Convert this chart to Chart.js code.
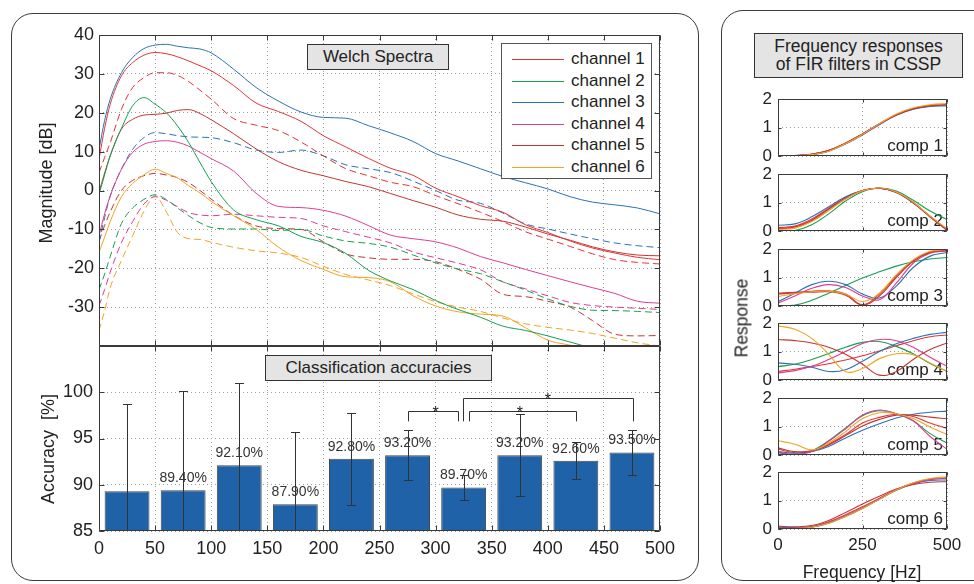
<!DOCTYPE html>
<html>
<head>
<meta charset="utf-8">
<title>Welch spectra, accuracies and FIR responses</title>
<script src="https://cdn.jsdelivr.net/npm/chart.js@4.4.1/dist/chart.umd.min.js"></script>
<style>
  html, body { margin: 0; padding: 0; background: #fff; }
  #fig { position: relative; width: 974px; height: 584px; overflow: hidden;
         font-family: "Liberation Sans", Arial, sans-serif; color: #222; }
  .panel { position: absolute; border: 1.5px solid #3c3c3c; border-radius: 22px; box-sizing: border-box; }
  canvas { position: absolute; }
  .tbox { position: absolute; box-sizing: border-box; background: #e4e4e4; border: 1.5px solid #333;
          text-align: center; font-size: 17px; z-index: 2; }
  .rot { position: absolute; white-space: pre; transform: translate(-50%, -50%) rotate(-90deg); }
  #legend { position: absolute; left: 501px; top: 43px; width: 151px; height: 136px; box-sizing: border-box;
            background: #fff; border: 1px solid #555; padding-top: 4px; font-size: 17px; z-index: 2; }
  #legend .row { height: 21.6px; line-height: 21.6px; white-space: nowrap; }
  #legend .sw { display: inline-block; width: 52px; margin: 0 7px 0 10px; vertical-align: middle; border-top: 1.5px solid; }
</style>
</head>
<body>
<div id="fig">
  <div class="panel" style="left:11px; top:13px; width:688px; height:568px;"></div>
  <div class="panel" style="left:721px; top:10px; width:300px; height:571px;"></div>

  <canvas id="welch" width="660" height="330" style="left:20px; top:20px;"></canvas>
  <canvas id="acc" width="660" height="240" style="left:20px; top:336px;"></canvas>

  <div class="tbox" style="left:307px; top:44px; width:142px; height:26px; line-height:23px;">Welch Spectra</div>
  <div class="tbox" style="left:265px; top:355px; width:227px; height:26px; line-height:23px;">Classification accuracies</div>
  <div class="tbox" style="left:754px; top:33px; width:209px; height:45px; line-height:18.3px; padding-top:3px; font-size:17.5px;">Frequency responses<br>of FIR filters in CSSP</div>
  <div id="legend"></div>

  <div class="rot" style="left:46px; top:183px; font-size:18px;">Magnitude [dB]</div>
  <div class="rot" style="left:48px; top:449px; font-size:18px;">Accuracy  [%]</div>
  <div class="rot" style="left:742px; top:318px; font-size:17.5px;">Response</div>
  <div style="position:absolute; left:862px; top:572px; transform:translate(-50%,-50%); font-size:17.5px; white-space:nowrap;">Frequency [Hz]</div>
</div>

<script>
// canales
const channelNames = ['channel 1', 'channel 2', 'channel 3', 'channel 4', 'channel 5', 'channel 6'];
const channelColors = ['#e03535', '#15a050', '#2b72b5', '#dc3d94', '#c23630', '#f2a324'];

// espectros de Welch (dB)
const freqs = [0, 5, 10, 20, 30, 40, 50, 60, 70, 80, 90, 100, 120, 140, 160, 180, 200, 220, 240, 260, 280, 300, 320, 340, 360, 380, 400, 420, 440, 460, 480, 500];
const ch1Solid  = [8, 16, 22.2, 29.5, 32.9, 34.8, 35.5, 35.2, 34.4, 33.3, 32.1, 30.8, 27, 22.5, 20.3, 17.8, 14.1, 11.2, 8.3, 5.7, 3.9, 0.6, -1.6, -3.9, -5.6, -8.8, -10.8, -13, -14.8, -16.1, -17.2, -17.8];
const ch1Dashed = [4.6, 8.5, 12.3, 20.9, 26.5, 29, 30.3, 30.3, 29.6, 28, 25.8, 23.5, 18.5, 16.8, 15.4, 12.5, 8.9, 5.6, 3.8, 2.1, 1, -1.3, -3.4, -5.6, -8, -10.6, -12.5, -14.4, -16.3, -17.8, -18.5, -18.9];
const ch2Solid  = [-1, 4, 9, 16, 21.8, 23.9, 22.2, 20, 16.6, 12.3, 7.2, 2.3, -5, -7.5, -9.1, -11.8, -13.4, -16.2, -20.5, -23.3, -25.5, -28.3, -30.6, -32.6, -34.9, -36, -37.4, -39, -40.5, -41.5, -42.5, -43];
const ch2Dashed = [-25.5, -21.5, -17, -8.5, -4.5, -2.3, -1.1, -2.3, -4.5, -6.5, -8.3, -9.5, -9.9, -9.9, -10.3, -10, -11.7, -13, -13.6, -14.6, -16.6, -18.6, -20.2, -21.4, -23.5, -25.6, -27.9, -29.8, -30.8, -30.9, -31.1, -31.4];
const ch3Solid  = [10.5, 18, 23.5, 30.3, 34.2, 36.5, 37.4, 37.6, 37.1, 36.7, 36.4, 35.4, 31.2, 26.5, 23, 20.2, 18.8, 18.6, 16.7, 14.8, 12.6, 9.5, 7.6, 5.6, 3.6, 2, 0.4, -1.6, -3, -3.7, -4.5, -6];
const ch3Dashed = [-13.4, -7, -1.4, 5.5, 10.6, 13.6, 14.9, 14.6, 14.1, 13.8, 13.7, 13.6, 12.3, 10.4, 9.8, 10.4, 8.9, 6.6, 5.6, 4.6, 2.4, 0, -2.5, -3.3, -5.8, -8.6, -9.9, -11.2, -12.4, -13.5, -14.2, -14.7];
const ch4Solid  = [-11.7, -6, -1.4, 5.5, 9.8, 11.9, 12.6, 12.8, 12.4, 11.4, 9.8, 8.2, 5, -0.7, -4.1, -4.4, -5.1, -6.6, -9, -11.5, -12.4, -13.2, -14.8, -17, -18.6, -20.3, -21.9, -23.5, -25, -26.5, -28.5, -29];
const ch4Dashed = [-29.6, -25.5, -21, -13.4, -8, -3.5, -1.6, -2.5, -4.2, -5.7, -6.3, -6.5, -6.1, -6.5, -6.9, -7.2, -9.1, -10.6, -12, -13.5, -15.8, -17.3, -18.7, -20.4, -23.5, -25.3, -27.1, -28.8, -29.6, -30, -30.3, -30.6];
const ch5Solid  = [-0.5, 4.5, 8.9, 15.8, 18.3, 19.4, 19.6, 19.9, 20.6, 20.8, 19.8, 18.2, 14.6, 10.7, 7.4, 5.2, 3.8, 2.3, 1, -0.8, -2.6, -4.3, -6.3, -7.4, -7.9, -9.4, -11.2, -12.8, -14.5, -15.8, -16.6, -16.8];
const ch5Dashed = [-13, -9, -5.5, 0, 2.6, 3.8, 4.4, 4, 3.3, 2, 0, -2.2, -6.4, -9.1, -9.8, -10, -13.2, -16.3, -17.3, -17.7, -17.7, -18.3, -20.3, -22.8, -26.7, -27.3, -28.5, -30, -33.5, -37, -37.4, -37.3];
const ch6Solid  = [-15.9, -12, -8, -1.6, 1.8, 4, 5.5, 4.4, 3.2, 1.2, -0.6, -2.8, -6.5, -10, -14.6, -18, -20.3, -22.2, -22.4, -23.5, -27.1, -29.7, -31.2, -31.8, -32.3, -35.3, -38.5, -39.8, -41, -42, -43, -44];
const ch6Dashed = [-36, -31, -25, -18, -11.6, -5.4, -1.4, -5.5, -10.8, -12.4, -12.6, -13.3, -14.6, -15.5, -16.1, -17.2, -19.5, -21.6, -23, -24.5, -26.6, -28.6, -30, -31.1, -32.8, -34.3, -35.2, -35.9, -36.8, -38, -39.2, -40];
const solidSeries = [ch1Solid, ch2Solid, ch3Solid, ch4Solid, ch5Solid, ch6Solid];
const dashedSeries = [ch1Dashed, ch2Dashed, ch3Dashed, ch4Dashed, ch5Dashed, ch6Dashed];

// precisión por banda
const bandCenters = [25, 75, 125, 175, 225, 275, 325, 375, 425, 475];
const accuracy = [89.3, 89.4, 92.1, 87.9, 92.8, 93.2, 89.7, 93.2, 92.6, 93.5];
const accStd = [9.4, 10.7, 8.9, 7.8, 5.0, 2.7, 1.4, 4.4, 2.0, 2.4];
const accLabelFrom = 1;              // la primera barra no lleva etiqueta
const sigPairs = [[5, 6], [6, 8], [6, 9]];
const sigLevels = [0, 0, 1];

// respuestas de los filtros FIR (una fila por canal)
const firFreqs = [0, 50, 100, 150, 200, 250, 300, 350, 400, 450, 500];
const comp1 = [
  [0, 0.02, 0.07, 0.2, 0.46, 0.78, 1.13, 1.45, 1.66, 1.77, 1.8],
  [0, 0.01, 0.05, 0.18, 0.44, 0.77, 1.12, 1.45, 1.67, 1.78, 1.82],
  [0, 0.01, 0.05, 0.17, 0.42, 0.74, 1.1, 1.43, 1.64, 1.74, 1.76],
  [0, 0.02, 0.06, 0.19, 0.44, 0.76, 1.12, 1.45, 1.66, 1.77, 1.81],
  [0, 0.02, 0.06, 0.19, 0.45, 0.77, 1.12, 1.44, 1.65, 1.76, 1.79],
  [0, 0.01, 0.05, 0.17, 0.43, 0.76, 1.13, 1.47, 1.69, 1.8, 1.84]
];
const comp2 = [
  [0.12, 0.17, 0.42, 0.8, 1.17, 1.42, 1.5, 1.35, 1.0, 0.52, 0.05],
  [0.0, 0.02, 0.22, 0.6, 1.05, 1.38, 1.51, 1.4, 1.08, 0.7, 0.4],
  [0.2, 0.25, 0.5, 0.85, 1.2, 1.42, 1.5, 1.35, 0.98, 0.5, 0.05],
  [0.08, 0.12, 0.35, 0.73, 1.13, 1.41, 1.5, 1.36, 1.0, 0.5, 0.02],
  [0.1, 0.14, 0.38, 0.77, 1.15, 1.42, 1.5, 1.36, 1.0, 0.5, 0.03],
  [0.05, 0.1, 0.33, 0.72, 1.12, 1.41, 1.51, 1.37, 1.02, 0.52, 0.08]
];
const comp3 = [
  [0.45, 0.48, 0.52, 0.53, 0.42, 0.05, 0.42, 1.05, 1.6, 1.9, 1.96],
  [0, 0.03, 0.2, 0.45, 0.72, 0.98, 1.2, 1.4, 1.55, 1.65, 1.7],
  [0.15, 0.45, 0.75, 0.87, 0.75, 0.42, 0.28, 0.7, 1.35, 1.75, 1.88],
  [0.1, 0.35, 0.62, 0.75, 0.65, 0.35, 0.22, 0.8, 1.5, 1.85, 1.93],
  [0.42, 0.46, 0.48, 0.5, 0.38, 0.03, 0.35, 1.0, 1.57, 1.88, 1.94],
  [0.33, 0.43, 0.5, 0.52, 0.42, 0.16, 0.45, 1.1, 1.62, 1.92, 1.98]
];
const comp4 = [
  [0.3, 0.38, 0.47, 0.57, 0.7, 0.85, 1.02, 1.2, 1.38, 1.52, 1.58],
  [0.47, 0.55, 0.72, 0.93, 1.15, 1.32, 1.35, 1.18, 0.92, 0.58, 0.3],
  [0.6, 0.55, 0.45, 0.3, 0.36, 0.66, 1.0, 1.27, 1.46, 1.6, 1.67],
  [0.25, 0.33, 0.48, 0.72, 1.0, 1.28, 1.42, 1.38, 1.15, 0.8, 0.48],
  [1.42, 1.38, 1.3, 1.15, 0.9, 0.55, 0.17, 0.3, 0.72, 1.07, 1.3],
  [1.9, 1.78, 1.46, 0.9, 0.3, 0.4, 0.75, 0.92, 0.89, 0.6, 0.3]
];
const comp5 = [
  [0.2, 0.08, 0.12, 0.38, 0.72, 1.12, 1.32, 1.43, 1.35, 1.12, 0.93],
  [0.08, 0.0, 0.15, 0.5, 0.95, 1.38, 1.55, 1.45, 1.2, 0.75, 0.42],
  [0.12, 0.06, 0.12, 0.3, 0.6, 0.87, 1.1, 1.3, 1.43, 1.5, 1.54],
  [0.1, 0.02, 0.12, 0.48, 0.92, 1.4, 1.58, 1.45, 1.2, 0.65, 0.2],
  [0.25, 0.12, 0.15, 0.35, 0.68, 1.02, 1.25, 1.4, 1.4, 1.33, 1.27],
  [0.5, 0.38, 0.18, 0.42, 0.82, 1.28, 1.48, 1.45, 1.28, 0.98, 0.72]
];
const comp6 = [
  [0.05, 0.04, 0.08, 0.25, 0.5, 0.78, 1.08, 1.38, 1.6, 1.74, 1.78],
  [0.02, 0.02, 0.06, 0.2, 0.44, 0.72, 1.05, 1.37, 1.61, 1.75, 1.8],
  [0.05, 0.05, 0.08, 0.22, 0.46, 0.74, 1.05, 1.36, 1.58, 1.7, 1.72],
  [0.03, 0.03, 0.07, 0.22, 0.46, 0.74, 1.06, 1.38, 1.6, 1.74, 1.79],
  [0.1, 0.08, 0.12, 0.3, 0.58, 0.88, 1.15, 1.4, 1.56, 1.64, 1.66],
  [0.02, 0.02, 0.06, 0.2, 0.44, 0.72, 1.04, 1.37, 1.62, 1.77, 1.83]
];
const firComps = [comp1, comp2, comp3, comp4, comp5, comp6];
const compNames = ['comp 1', 'comp 2', 'comp 3', 'comp 4', 'comp 5', 'comp 6'];

Chart.defaults.font.family = '"Liberation Sans", Arial, sans-serif';
Chart.defaults.color = '#222';

const FONT = '"Liberation Sans", Arial, sans-serif';
const GRID = '#9c9c9c';

// Caja estilo MATLAB con marcas hacia dentro
const matlabBox = {
  id: 'matlabBox',
  afterDraw(chart, args, opts) {
    const { ctx, chartArea: a, scales } = chart;
    const len = opts.tick || 5;
    const L = Math.round(a.left) + 0.5, R = Math.round(a.right) - 0.5;
    const T = Math.round(a.top) + 0.5, B = Math.round(a.bottom) - 0.5;
    ctx.save();
    ctx.strokeStyle = '#3a3a3a';
    ctx.lineWidth = 1;
    ctx.beginPath();
    scales.x.ticks.forEach(t => {
      const px = Math.round(scales.x.getPixelForValue(t.value)) + 0.5;
      ctx.moveTo(px, T); ctx.lineTo(px, T + len);
      ctx.moveTo(px, B); ctx.lineTo(px, B - len);
    });
    scales.y.ticks.forEach(t => {
      const py = Math.round(scales.y.getPixelForValue(t.value)) + 0.5;
      ctx.moveTo(L, py); ctx.lineTo(L + len, py);
      ctx.moveTo(R, py); ctx.lineTo(R - len, py);
    });
    ctx.rect(L, T, R - L, B - T);
    ctx.stroke();
    ctx.restore();
  }
};

// Barras de error, etiquetas y corchetes de significancia
const accExtras = {
  id: 'accExtras',
  afterDatasetsDraw(chart) {
    const { ctx, chartArea: a, scales: { x, y } } = chart;
    ctx.save();
    ctx.beginPath();
    ctx.rect(a.left, a.top, a.right - a.left, a.bottom - a.top);
    ctx.clip();
    ctx.strokeStyle = '#333';
    ctx.lineWidth = 1;
    ctx.beginPath();
    bandCenters.forEach((c, i) => {
      const px = Math.round(x.getPixelForValue(c)) + 0.5;
      const hi = Math.round(y.getPixelForValue(accuracy[i] + accStd[i])) + 0.5;
      const lo = Math.round(y.getPixelForValue(accuracy[i] - accStd[i])) + 0.5;
      ctx.moveTo(px, hi); ctx.lineTo(px, lo);
      ctx.moveTo(px - 4.5, hi); ctx.lineTo(px + 4.5, hi);
      ctx.moveTo(px - 4.5, lo); ctx.lineTo(px + 4.5, lo);
    });
    ctx.stroke();
    ctx.restore();

    ctx.save();
    ctx.font = '14px ' + FONT;
    ctx.fillStyle = '#333';
    ctx.textAlign = 'center';
    ctx.textBaseline = 'bottom';
    bandCenters.forEach((c, i) => {
      if (i < accLabelFrom) return;
      ctx.fillText(accuracy[i].toFixed(2) + '%', x.getPixelForValue(c), y.getPixelForValue(accuracy[i]) - 5);
    });

    const levelTop = [98.0, 99.35];
    const legBottom = 96.85;
    const legShift = [[0, -5], [5, 0], [-1, 1]];
    ctx.strokeStyle = '#333';
    ctx.beginPath();
    sigPairs.forEach((p, k) => {
      const x1 = Math.round(x.getPixelForValue(bandCenters[p[0]] + legShift[k][0])) + 0.5;
      const x2 = Math.round(x.getPixelForValue(bandCenters[p[1]] + legShift[k][1])) + 0.5;
      const yt = Math.round(y.getPixelForValue(levelTop[sigLevels[k]])) + 0.5;
      const yb = y.getPixelForValue(legBottom);
      ctx.moveTo(x1, yb); ctx.lineTo(x1, yt); ctx.lineTo(x2, yt); ctx.lineTo(x2, yb);
    });
    ctx.stroke();
    ctx.font = '16px ' + FONT;
    ctx.fillStyle = '#222';
    ctx.textBaseline = 'alphabetic';
    sigPairs.forEach((p, k) => {
      const xm = (x.getPixelForValue(bandCenters[p[0]]) + x.getPixelForValue(bandCenters[p[1]])) / 2;
      const yt = y.getPixelForValue(levelTop[sigLevels[k]]);
      ctx.fillText('*', xm, yt + 7);
    });
    ctx.restore();
  }
};

// Etiqueta "comp N" en cada subgráfica
const compLabel = {
  id: 'compLabel',
  beforeDatasetsDraw(chart, args, opts) {
    const { ctx, chartArea: a } = chart;
    ctx.save();
    ctx.font = '17px ' + FONT;
    ctx.fillStyle = '#222';
    ctx.textAlign = 'right';
    ctx.textBaseline = 'alphabetic';
    ctx.fillText(opts.text, a.right - 4, a.bottom - 5);
    ctx.restore();
  }
};

function gridOpts() {
  return { color: GRID, lineWidth: 1, drawTicks: false };
}

// Leyenda
const legendEl = document.getElementById('legend');
channelNames.forEach((name, i) => {
  const row = document.createElement('div');
  row.className = 'row';
  row.innerHTML = '<span class="sw" style="border-top-color:' + channelColors[i] + '"></span>' + name;
  legendEl.appendChild(row);
});

// Espectros de Welch
function inicializarWelch() {
  const datasets = [];
  solidSeries.forEach((serie, c) => {
    datasets.push({
      label: channelNames[c],
      data: freqs.map((f, i) => ({ x: f, y: serie[i] })),
      borderColor: channelColors[c],
      borderWidth: 1,
      pointRadius: 0,
      cubicInterpolationMode: 'monotone',
      fill: false
    });
  });
  dashedSeries.forEach((serie, c) => {
    datasets.push({
      label: channelNames[c] + ' (b)',
      data: freqs.map((f, i) => ({ x: f, y: serie[i] })),
      borderColor: channelColors[c],
      borderWidth: 1,
      borderDash: [7, 4],
      pointRadius: 0,
      cubicInterpolationMode: 'monotone',
      fill: false
    });
  });

  new Chart(document.getElementById('welch'), {
    type: 'line',
    data: { datasets: datasets },
    options: {
      responsive: false,
      animation: false,
      layout: { padding: { top: 15, right: 20, bottom: 4, left: 0 } },
      plugins: { legend: { display: false }, tooltip: { enabled: false }, matlabBox: { tick: 5 } },
      scales: {
        x: {
          type: 'linear', min: 0, max: 500,
          ticks: { stepSize: 50, display: false },
          grid: gridOpts(),
          border: { display: false, dash: [1, 3] },
          afterFit: s => { s.height = 0; s.paddingLeft = 0; s.paddingRight = 0; }
        },
        y: {
          min: -40, max: 40,
          ticks: { stepSize: 10, padding: 5, font: { size: 18 }, callback: v => (v === -40 ? '' : v) },
          grid: gridOpts(),
          border: { display: false, dash: [1, 3] },
          afterFit: s => { s.width = 79; s.paddingTop = 0; s.paddingBottom = 0; }
        }
      }
    },
    plugins: [matlabBox]
  });
}

// Precisión de clasificación
function inicializarPrecision() {
  new Chart(document.getElementById('acc'), {
    type: 'bar',
    data: {
      datasets: [{
        label: 'Accuracy',
        data: bandCenters.map((c, i) => ({ x: c, y: accuracy[i] })),
        backgroundColor: '#1f62a7',
        borderColor: '#454545',
        borderWidth: 1,
        barPercentage: 1,
        categoryPercentage: 0.8
      }]
    },
    options: {
      responsive: false,
      animation: false,
      layout: { padding: { top: 10, right: 20, bottom: 0, left: 0 } },
      plugins: { legend: { display: false }, tooltip: { enabled: false }, matlabBox: { tick: 5 } },
      scales: {
        x: {
          type: 'linear', min: 0, max: 500, offset: false,
          ticks: { stepSize: 50, padding: 7, font: { size: 18 }, autoSkip: false, maxRotation: 0 },
          grid: Object.assign(gridOpts(), { offset: false }),
          border: { display: false, dash: [1, 3] },
          afterFit: s => { s.height = 45; s.paddingLeft = 0; s.paddingRight = 0; }
        },
        y: {
          min: 85, max: 105,
          ticks: { stepSize: 5, padding: 6, font: { size: 18 }, callback: v => (v === 105 ? '' : v) },
          grid: gridOpts(),
          border: { display: false, dash: [1, 3] },
          afterFit: s => { s.width = 79; s.paddingTop = 0; s.paddingBottom = 0; }
        }
      }
    },
    plugins: [matlabBox, accExtras]
  });
}

// Respuestas en frecuencia de los filtros
function inicializarFIR() {
  const fig = document.getElementById('fig');
  const tops = [99, 174, 249, 323, 398, 472];
  firComps.forEach((comp, k) => {
    const last = k === firComps.length - 1;
    const cv = document.createElement('canvas');
    cv.width = 224;
    cv.height = last ? 99 : 81;
    cv.style.left = '745px';
    cv.style.top = (tops[k] - 12) + 'px';
    fig.insertBefore(cv, document.querySelector('.tbox'));

    new Chart(cv, {
      type: 'line',
      data: {
        datasets: comp.map((vals, c) => ({
          label: channelNames[c],
          data: firFreqs.map((f, i) => ({ x: f, y: vals[i] })),
          borderColor: channelColors[c],
          borderWidth: 1.1,
          pointRadius: 0,
          tension: 0.4,
          fill: false,
          order: comp.length - c
        }))
      },
      options: {
        responsive: false,
        animation: false,
        layout: { padding: { top: 12, right: 22, bottom: last ? 0 : 12, left: 0 } },
        plugins: {
          legend: { display: false }, tooltip: { enabled: false },
          matlabBox: { tick: 3 }, compLabel: { text: compNames[k] }
        },
        scales: {
          x: {
            type: 'linear', min: 0, max: 500,
            ticks: { stepSize: 250, display: last, padding: 6, font: { size: 17 }, maxRotation: 0 },
            grid: gridOpts(),
            border: { display: false, dash: [1, 3] },
            afterFit: s => { s.height = last ? 30 : 0; s.paddingLeft = 0; s.paddingRight = 0; }
          },
          y: {
            min: 0, max: 2,
            ticks: { stepSize: 1, padding: 6, font: { size: 17 } },
            grid: gridOpts(),
            border: { display: false, dash: [1, 3] },
            afterFit: s => { s.width = 33; s.paddingTop = 0; s.paddingBottom = 0; }
          }
        }
      },
      plugins: [matlabBox, compLabel]
    });
  });
}

document.addEventListener('DOMContentLoaded', function() {
  inicializarWelch();
  inicializarPrecision();
  inicializarFIR();
});
</script>
</body>
</html>
